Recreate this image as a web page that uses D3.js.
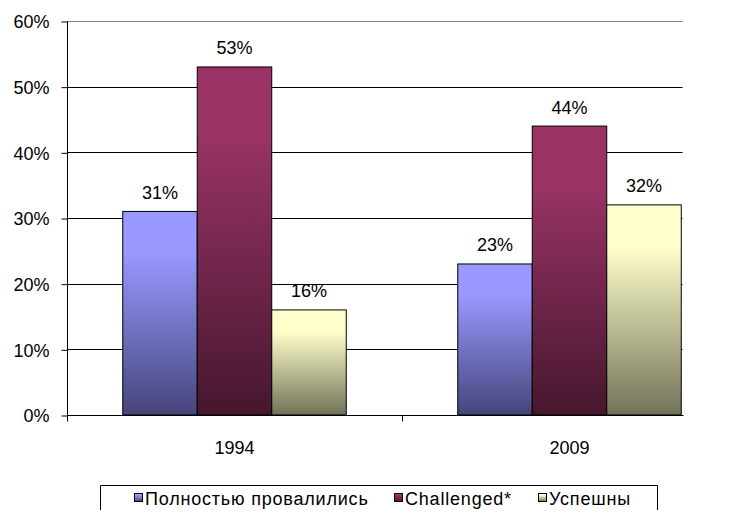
<!DOCTYPE html>
<html><head><meta charset="utf-8">
<script src="https://cdn.jsdelivr.net/npm/d3@7"></script>
<style>body{margin:0;background:#fff}svg{display:block}text{font-family:"Liberation Sans",Arial,sans-serif;fill:#000}</style>
</head><body>
<script>
const categories = ["1994", "2009"];
const seriesNames = ["Полностью провалились", "Challenged*", "Успешны"];
const failed = [0.31, 0.23];
const challenged = [0.53, 0.44];
const succeeded = [0.16, 0.32];
const yTicks = [0, 0.1, 0.2, 0.3, 0.4, 0.5, 0.6];
const topColors = ["#9999FF", "#993366", "#FFFFCC"];
const bottomColors = ["#45457A", "#45172D", "#727258"];

(function () {
const values = [failed, challenged, succeeded];
const W = 742, H = 525;
const svg = d3.select("body").append("svg").attr("width", W).attr("height", H);
const defs = svg.append("defs");
topColors.forEach((c, i) => {
  const g = defs.append("linearGradient").attr("id", "g" + i).attr("x1", 0).attr("y1", 0).attr("x2", 0).attr("y2", 1);
  g.append("stop").attr("offset", "0%").attr("stop-color", c);
  g.append("stop").attr("offset", "20%").attr("stop-color", c);
  g.append("stop").attr("offset", "100%").attr("stop-color", bottomColors[i]);
});

const pLeft = 67, pRight = 682.5, pTop = 21, pBottom = 415;
const x0 = d3.scaleBand().domain(categories).range([pLeft, pLeft + 2 * 335]);
const x1 = d3.scaleBand().domain(d3.range(3)).range([55.75, 335 - 55.75]);
const y = d3.scaleLinear().domain([0, 0.6]).range([pBottom, pTop]);

svg.append("g").selectAll("line").data(yTicks.filter(d => d > 0)).join("line")
  .attr("x1", pLeft).attr("x2", pRight)
  .attr("y1", d => Math.round(y(d)) + 0.5).attr("y2", d => Math.round(y(d)) + 0.5)
  .attr("stroke", d => d === 0.6 ? "#808080" : "#000").attr("stroke-width", 1);

const rows = [];
categories.forEach((c, ci) => values.forEach((s, si) => rows.push({c, si, v: s[ci]})));
svg.append("g").selectAll("rect").data(rows).join("rect")
  .attr("x", d => x0(d.c) + x1(d.si))
  .attr("y", d => y(d.v))
  .attr("width", x1.bandwidth())
  .attr("height", d => y(0) - y(d.v))
  .attr("fill", d => `url(#g${d.si})`)
  .attr("stroke", "#000").attr("stroke-width", 1);

svg.append("g").selectAll("text").data(rows).join("text")
  .attr("x", d => x0(d.c) + x1(d.si) + x1.bandwidth() / 2)
  .attr("y", d => y(d.v) - 12.5)
  .attr("text-anchor", "middle").attr("font-size", 18)
  .text(d => Math.round(d.v * 100) + "%");

const yAxis = d3.axisLeft(y).tickValues(yTicks).tickFormat(d3.format(".0%")).tickSize(6).tickPadding(12);
const ga = svg.append("g").attr("transform", `translate(${pLeft + 0.5},0.5)`).call(yAxis);
ga.select(".domain").attr("d", `M0,${pTop}V${pBottom}`).attr("stroke", "#000");
ga.selectAll(".tick line").attr("stroke", "#000");
ga.selectAll(".tick text").attr("font-size", 18).attr("font-family", "Liberation Sans, Arial, sans-serif").attr("fill", "#000").attr("dy", "0.36em");

const gx = svg.append("g").attr("transform", `translate(0,${pBottom + 0.5})`);
gx.append("line").attr("x1", pLeft).attr("x2", pRight + 1).attr("stroke", "#000");
gx.selectAll(".sep").data(categories).join("line")
  .attr("x1", d => Math.round(x0(d)) + 0.5).attr("x2", d => Math.round(x0(d)) + 0.5)
  .attr("y1", 0).attr("y2", 6).attr("stroke", "#000");
gx.selectAll("text").data(categories).join("text")
  .attr("x", d => x0(d) + x0.bandwidth() / 2).attr("y", 38)
  .attr("text-anchor", "middle").attr("font-size", 18).text(d => d);

const lg = svg.append("g");
lg.append("path").attr("d", "M100.5,510V485.5H657.5V510").attr("fill", "none").attr("stroke", "#000");
const legX = [134, 394, 538];
seriesNames.forEach((n, i) => {
  lg.append("rect").attr("x", legX[i] + 0.5).attr("y", 493.5).attr("width", 8).attr("height", 8)
    .attr("fill", `url(#g${i})`).attr("stroke", "#000");
  lg.append("text").attr("x", legX[i] + 11).attr("y", 505).attr("font-size", 18)
    .attr("letter-spacing", "0.8px").text(n);
});
})();
</script>
</body></html>
